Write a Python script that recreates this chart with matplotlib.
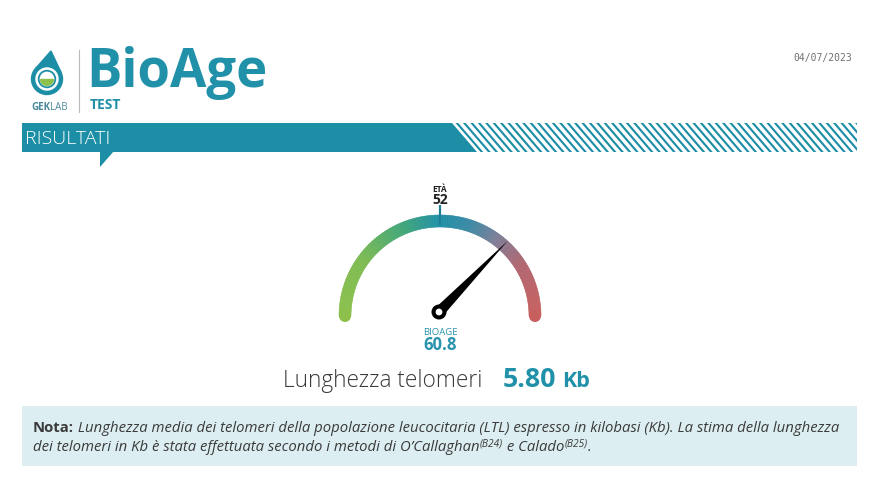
import numpy as np
import matplotlib
matplotlib.use("Agg")
import matplotlib.pyplot as plt
from matplotlib.patches import Polygon, Circle, Rectangle
from matplotlib.colors import LinearSegmentedColormap

# ---------------- data ----------------
title_main = "BioAge"
title_sub = "TEST"
brand = ["GEK", "LAB"]
report_date = "04/07/2023"
section_label = "RISULTATI"
gauge_min = 34
gauge_max = 70
eta_label = "ETÀ"
eta_value = 52
bioage_label = "BIOAGE"
bioage_value = 60.8
metric_label = "Lunghezza telomeri"
metric_value = 5.80
metric_unit = "Kb"
note_bold = "Nota:"
note_line1 = " Lunghezza media dei telomeri della popolazione leucocitaria (LTL) espresso in kilobasi (Kb). La stima della lunghezza"
note_line2 = ["dei telomeri in Kb è stata effettuata secondo i metodi di O’Callaghan", "(B24)", " e Calado", "(B25)", "."]

# ---------------- style ----------------
TEAL = "#1c8ea6"
TEAL_T = "#2191a9"
DARK = "#3a3a3a"
FONT = "Open Sans"
W, H = 875, 479

fig = plt.figure(figsize=(W / 100, H / 100), dpi=100)
ax = fig.add_axes([0, 0, 1, 1])
ax.set_xlim(0, W)
ax.set_ylim(H, 0)
ax.axis("off")
renderer = fig.canvas.get_renderer()


def width_of(t):
    bb = t.get_window_extent(renderer=renderer)
    return bb.width


# ---------------- logo ----------------
cx_l, cy_l, r_l = 47, 79, 15.5
tip = (51, 51)
ax.add_patch(Circle((cx_l, cy_l), r_l, color=TEAL, zorder=2))
dx, dy = tip[0] - cx_l, tip[1] - cy_l
d = np.hypot(dx, dy)
base_ang = np.arctan2(dy, dx)
a = np.arccos(r_l / d)
p1 = (cx_l + r_l * np.cos(base_ang + a), cy_l + r_l * np.sin(base_ang + a))
p2 = (cx_l + r_l * np.cos(base_ang - a), cy_l + r_l * np.sin(base_ang - a))
ax.add_patch(Polygon([tip, p1, (cx_l, cy_l), p2], closed=True, color=TEAL, zorder=2))
ax.add_patch(Circle((cx_l, cy_l), 11, color="white", zorder=3))
ax.add_patch(Circle((cx_l, cy_l), 8.3, fill=False, ec=TEAL, lw=1.3, zorder=4))
th = np.linspace(0, np.pi, 40)
bowl = np.column_stack([cx_l + 6.3 * np.cos(th), cy_l + 0.5 + 5.8 * np.sin(th)])
ax.add_patch(Polygon(bowl, closed=True, color="#8cc04b", zorder=4))
t1 = ax.text(31, 107, brand[0], fontsize=7, fontweight="bold", color="#4a8a9c",
             family=FONT, va="center", ha="left")
ax.text(31 + width_of(t1), 107, brand[1], fontsize=7, color="#4a8a9c",
        family=FONT, va="center", ha="left")
ax.plot([79, 79], [50, 112], color="#bbbbbb", lw=0.8)

ax.text(86, 87, title_main, fontsize=38, fontweight="bold", color=TEAL_T,
        family=FONT, va="baseline", ha="left")
ax.text(90, 108.5, title_sub, fontsize=10, fontweight="bold", color=TEAL_T,
        family=FONT, va="baseline", ha="left")

ax.text(852, 58, report_date, fontsize=7, color="#707070", family="DejaVu Sans Mono",
        va="center", ha="right")

# ---------------- banner ----------------
top_y, bot_y = 123, 152
ax.add_patch(Polygon([(22, top_y), (452, top_y), (477, bot_y), (22, bot_y)],
                     closed=True, color=TEAL, lw=0, zorder=2))
ax.add_patch(Polygon([(100, bot_y - 1), (114, bot_y - 1), (100, 167)],
                     closed=True, color=TEAL, lw=0, zorder=2))
ax.text(25, 139, section_label, fontsize=14, color="white", family=FONT,
        fontweight="light", va="center", ha="left", zorder=3)
clip = Polygon([(452, top_y), (857, top_y), (857, bot_y), (477, bot_y)],
               closed=True, fc="none", ec="none")
ax.add_patch(clip)
slope = 25.0 / 29.0
period = 7.4
sw = 2.8
x0 = 452 + 3.5
while x0 < 870:
    stripe = Polygon([(x0, top_y), (x0 + sw, top_y),
                      (x0 + sw + slope * (bot_y - top_y), bot_y),
                      (x0 + slope * (bot_y - top_y), bot_y)],
                     closed=True, color=TEAL, lw=0, zorder=2)
    ax.add_patch(stripe)
    stripe.set_clip_path(clip)
    x0 += period

# ---------------- gauge ----------------
gcx, gcy, gr, gw = 440, 316, 95, 12


def ang(v):
    return np.pi - (v - gauge_min) / (gauge_max - gauge_min) * np.pi


def pt(theta, r):
    return (gcx + r * np.cos(theta), gcy - r * np.sin(theta))


cmap = LinearSegmentedColormap.from_list("g", [
    (0.0, "#8cc04b"), (0.2, "#7dbb52"), (0.38, "#3ea57a"), (0.5, "#1f8fa8"),
    (0.6, "#3a89a4"), (0.7, "#7c7e98"), (0.82, "#b06670"), (1.0, "#c85f5f")])
N = 180
edges = np.linspace(np.pi, 0, N + 1)
for i in range(N):
    a0, a1 = edges[i], edges[i + 1]
    ts = np.linspace(a0, a1, 4)
    outer = [pt(t, gr + gw / 2) for t in ts]
    inner = [pt(t, gr - gw / 2) for t in ts[::-1]]
    c = cmap((i + 0.5) / N)
    ax.add_patch(Polygon(outer + inner, closed=True, fc=c, ec=c, lw=0.4, zorder=3))
ax.add_patch(Circle(pt(np.pi, gr), gw / 2, color=cmap(0.0), lw=0, zorder=3))
ax.add_patch(Circle(pt(0, gr), gw / 2, color=cmap(1.0), lw=0, zorder=3))

te = ang(eta_value)
m0 = pt(te, gr - gw / 2 + 2)
m1 = pt(te, gr + gw / 2 + 10)
ax.plot([m0[0], m1[0]], [m0[1], m1[1]], color="#1f7f95", lw=1.6, zorder=4,
        solid_capstyle="butt")
ax.text(gcx, 189, eta_label, fontsize=6, fontweight="bold", color="#222222",
        family=FONT, ha="center", va="center")
ax.text(gcx, 199.5, f"{eta_value}", fontsize=10, fontweight="bold", color="#222222",
        family=FONT, ha="center", va="center")

# needle
pcx, pcy = 439, 312
tb = ang(bioage_value)
tipn = pt(tb, 99)
tipn = (tipn[0] - (gcx - pcx), tipn[1] - (gcy - pcy))
perp = np.array([np.sin(tb), np.cos(tb)])
hw = 5.5
b1 = (pcx + perp[0] * hw, pcy + perp[1] * hw)
b2 = (pcx - perp[0] * hw, pcy - perp[1] * hw)
ax.add_patch(Polygon([b1, tipn, b2], closed=True, color="black", lw=0, zorder=5))
ax.add_patch(Circle((pcx, pcy), 7.5, color="black", lw=0, zorder=5))
ax.add_patch(Circle((pcx, pcy), 3.4, color="white", lw=0, zorder=6))

ax.text(gcx, 332.5, bioage_label, fontsize=6.8, color="#2a93ad", family=FONT,
        ha="center", va="center")
ax.text(gcx, 345, f"{bioage_value:.1f}", fontsize=12, fontweight="bold",
        color="#2a93ad", family=FONT, ha="center", va="center")

# ---------------- metric line ----------------
ax.text(283, 387, metric_label, fontsize=16.3, color=DARK, family=FONT,
        fontweight="light", ha="left", va="baseline")
tv = ax.text(503, 387, f"{metric_value:.2f}", fontsize=19.3, fontweight="bold",
             color=TEAL_T, family=FONT, ha="left", va="baseline")
ax.text(503 + width_of(tv) + 6, 387, metric_unit, fontsize=15.5, fontweight="bold",
        color=TEAL_T, family=FONT, ha="left", va="baseline")

# ---------------- note box ----------------
ax.add_patch(Rectangle((22, 406), 835, 60, fc="#dceef1", ec="none", zorder=1))
fs = 10.7
tb1 = ax.text(33, 432, note_bold, fontsize=fs, fontweight="bold", color=DARK,
              family=FONT, ha="left", va="baseline", zorder=3)
ax.text(33 + width_of(tb1), 432, note_line1, fontsize=fs, style="italic", color=DARK,
        family=FONT, ha="left", va="baseline", zorder=3)
x = 33
for i, piece in enumerate(note_line2):
    sup = piece.startswith("(")
    t = ax.text(x, 451 - (4.5 if sup else 0), piece, fontsize=fs * (0.68 if sup else 1),
                style="italic", color=DARK, family=FONT, ha="left", va="baseline",
                zorder=3)
    x += width_of(t)

fig.savefig("out.png", dpi=100)
